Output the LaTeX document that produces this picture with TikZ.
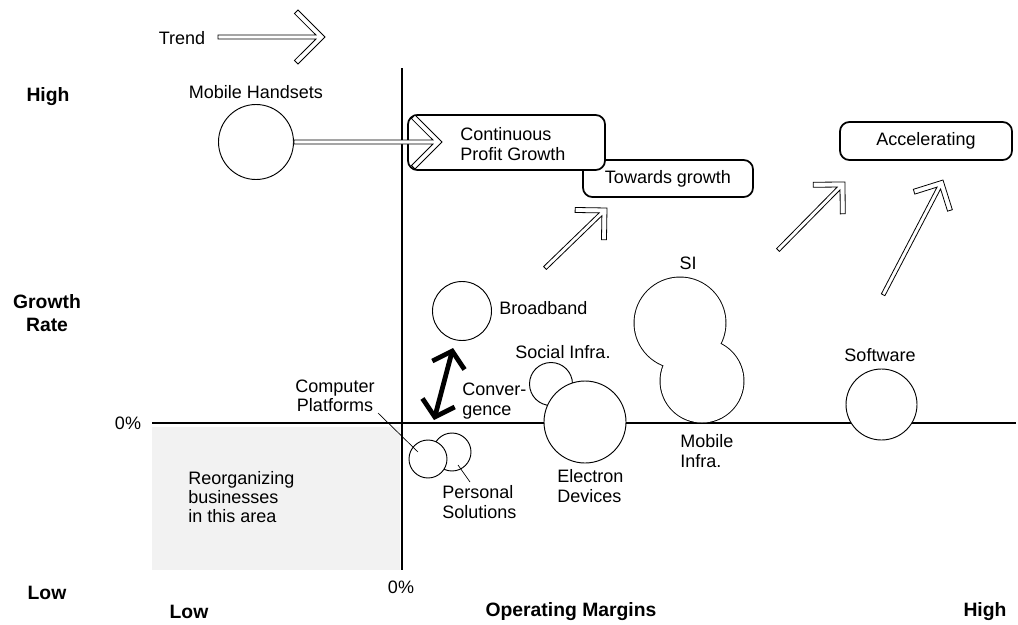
\documentclass[tikz,border=0pt]{standalone}
\usepackage{fontspec}
\setmainfont{Liberation Sans}
\usetikzlibrary{calc,arrows.meta}
\newcommand\hollowarrow[3]{%
  \pgfmathanglebetweenpoints{\pgfpointanchor{#2}{center}}{\pgfpointanchor{#3}{center}}%
  \let\hwang\pgfmathresult
  \pgfpointdiff{\pgfpointanchor{#2}{center}}{\pgfpointanchor{#3}{center}}%
  \pgfgetlastxy{\hwdx}{\hwdy}%
  \pgfmathveclen{\hwdx}{\hwdy}\let\hwlen\pgfmathresult
  \pgfmathsetmacro\hwa{#1*0.75}%
  \pgfmathsetmacro\hwap{\hwa+2.652}%
  \pgfmathsetmacro\hwam{\hwa-2.652}%
  \begin{scope}[shift={(#3)},rotate=\hwang,x=1pt,y=1pt]
    \draw[hollow] (0,0) -- (-\hwa,\hwa) -- (-\hwap,\hwam) -- (-6.8,1.5) -- (-\hwlen,1.5) -- (-\hwlen,-1.5) -- (-6.8,-1.5) -- (-\hwap,-\hwam) -- (-\hwa,-\hwa) -- cycle;
  \end{scope}}
\begin{document}
\begin{tikzpicture}[x=0.75pt,y=0.75pt,
  lbl/.style={font=\fontsize{13.5}{14.5}\selectfont, inner sep=0pt, align=left},
  lblc/.style={lbl, align=center},
  axl/.style={font=\fontsize{14.5}{17}\selectfont\bfseries, inner sep=0pt, align=center},
  bub/.style={circle, draw, line width=0.7pt, fill=white, inner sep=0pt, minimum size={#1*1.5pt}},
  rbox/.style={draw, line width=1.3pt, rounded corners=7pt, fill=white, inner sep=0pt},
  hollow/.style={draw, line width=0.6pt, fill=white, line join=miter},
  axisline/.style={line width=1.5pt},
  leader/.style={line width=0.5pt},
  conv/.style={line width=3.6pt, {Straight Barb[length=11pt,width=25pt]}-{Straight Barb[length=11pt,width=25pt]}}]
\useasboundingbox (0,0) rectangle (1018,-625);
\fill[white] (0,0) rectangle (1018,-625);
% reorganizing area
\fill[black!5] (152,-427) rectangle (400,-570);
% axes
\coordinate (vt) at (402,-68); \coordinate (vb) at (402,-570);
\coordinate (hl) at (152,-423); \coordinate (hr) at (1016,-423);
\draw[axisline] (vt) -- (vb);
\draw[axisline] (hl) -- (hr);
% axis labels
\node[axl] (hy) at (48,-97) {High};
\node[axl] (gr) at (47,-313) {Growth\\Rate};
\node[axl] (ly) at (47,-593) {Low};
\node[lbl] (zy) at (128,-423) {0\%};
\node[lbl] (zx) at (401,-587) {0\%};
\node[axl] (lx) at (189,-612) {Low};
\node[axl] (om) at (571,-612) {Operating Margins};
\node[axl] (hx) at (985,-612) {High};
\node[lbl, anchor=west] (reorg) at (188,-497) {Reorganizing\\businesses\\in this area};
% trend
\node[lbl] (trend) at (182,-38) {Trend};
\coordinate (trA) at (218,-37); \coordinate (trB) at (325,-37);
\hollowarrow{27}{trA}{trB}
% bubbles
\node[bub=37.5] (mh) at (256,-142) {};
\node[lbl] (mhl) at (256,-92) {Mobile Handsets};
\node[bub=19] (ps) at (452,-452) {};
\node[bub=19] (cp) at (428,-459) {};
\node[bub=29.5] (bb) at (462,-311) {};
\node[bub=21.5] (soc) at (551,-384) {};
\node[bub=41] (ed) at (585,-422) {};
\node[bub=35.5] (sw) at (881.5,-404.5) {};
\node[circle, draw, line width=1.4pt, inner sep=0pt, minimum size=68.25pt] (si) at (680,-323) {};
\node[circle, draw, line width=1.4pt, inner sep=0pt, minimum size=62.25pt] (mi) at (702,-381) {};
\fill[white] (si.center) circle (45.5);
\fill[white] (mi.center) circle (41.5);
% bubble labels
\node[lbl, anchor=west] (bbl) at (499,-308) {Broadband};
\node[lbl] (socl) at (563,-352) {Social Infra.};
\node[lbl] (swl) at (880,-355) {Software};
\node[lbl] (sil) at (688,-263) {SI};
\node[lbl, anchor=west] (mil) at (680,-451) {Mobile\\Infra.};
\node[lbl, anchor=west] (edl) at (557,-486) {Electron\\Devices};
\node[lbl, anchor=west] (psl) at (442,-502) {Personal\\Solutions};
\node[lblc] (cpl) at (335,-396) {Computer\\Platforms};
\node[lbl, anchor=west] (cvl) at (462,-401) {Conver-\\gence};
% leaders
\coordinate (cpl1) at (378,-413); \coordinate (cpl2) at (418,-452);
\draw[leader] (cpl1) -- (cpl2);
\coordinate (psl1) at (470,-482); \coordinate (psl2) at (458,-465);
\draw[leader] (psl1) -- (psl2);
% convergence arrow
\coordinate (cvA) at (434,-420); \coordinate (cvB) at (453,-348);
\draw[conv] (cvA) -- (cvB);
% boxes
\node[rbox, lbl, minimum width=127.5pt, minimum height=27.75pt] (tg) at (668,-178.5) {Towards growth};
\node[rbox, minimum width=147.75pt, minimum height=41.25pt] (cpg) at (506.5,-142.5) {};
\node[lbl, anchor=west] (cpgt) at (460,-144) {Continuous\\Profit Growth};
\node[rbox, lbl, minimum width=129pt, minimum height=28.5pt] (acc) at (926,-141) {Accelerating};
% hollow arrows
\coordinate (mhA) at (mh.east); \coordinate (mhB) at (442,-142);
\hollowarrow{27}{mhA}{mhB}
\coordinate (g1A) at (545,-268); \coordinate (g1B) at (607,-208);
\hollowarrow{22.5}{g1A}{g1B}
\coordinate (g2A) at (778,-250); \coordinate (g2B) at (845,-182);
\hollowarrow{22.5}{g2A}{g2B}
\coordinate (g3A) at (883,-295); \coordinate (g3B) at (943,-180);
\hollowarrow{22}{g3A}{g3B}
\end{tikzpicture}
\end{document}
